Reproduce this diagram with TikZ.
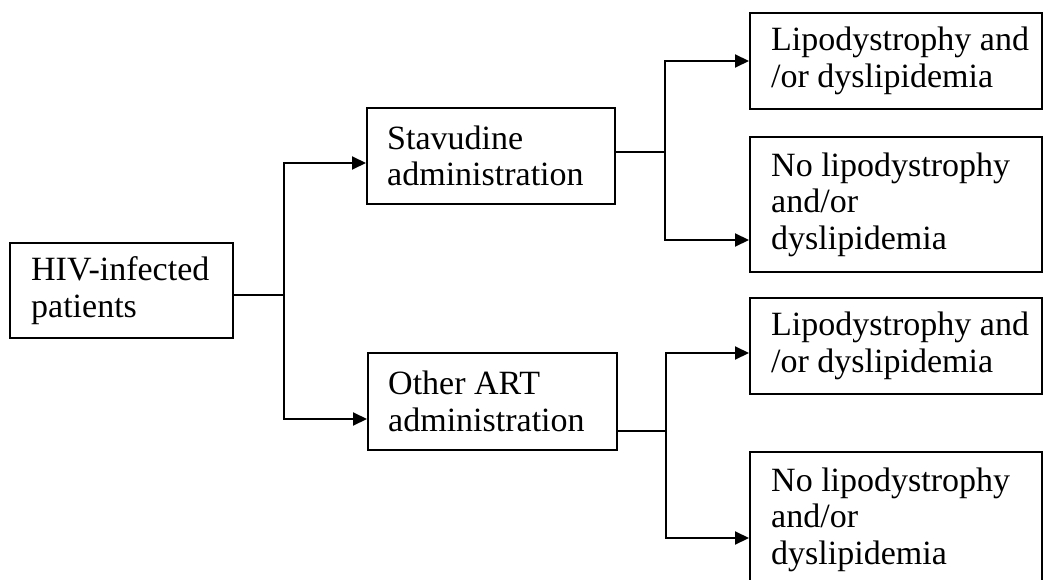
\documentclass[tikz,border=0pt]{standalone}
\usepackage{fontspec}
\setmainfont{Liberation Serif}
\usetikzlibrary{arrows.meta,calc}
\begin{document}
\begin{tikzpicture}[x=1pt,y=-1pt,
  box/.style={draw, line width=2pt, inner sep=0pt},
  txt/.style={align=left, inner sep=0pt, font=\fontsize{34}{36.5}\selectfont},
  ln/.style={line width=2pt},
  arr/.style={line width=2pt, -{Triangle[length=14pt,width=13pt]}}]
\useasboundingbox (0,0) rectangle (1043,580);
% boxes
\node[box, minimum width=223pt, minimum height=95pt] (H) at (121.5,290.5) {};
\node[box, minimum width=248pt, minimum height=96pt] (S) at (491,156) {};
\node[box, minimum width=249pt, minimum height=97pt] (O) at (492.5,401.5) {};
\node[box, minimum width=292pt, minimum height=96pt] (R1) at (896,61) {};
\node[box, minimum width=292pt, minimum height=135pt] (R2) at (896,204.5) {};
\node[box, minimum width=292pt, minimum height=96pt] (R3) at (896,346) {};
\node[box, minimum width=292pt, minimum height=135pt] (R4) at (896,519.5) {};
% texts
\node[txt, anchor=west] (Ht) at ([xshift=22pt]H.west) {HIV-infected\\patients};
\node[txt, anchor=west] (St) at ([xshift=21pt]S.west) {Stavudine\\administration};
\node[txt, anchor=west] (Ot) at ([xshift=21pt]O.west) {Other ART\\administration};
\node[txt, anchor=west] (R1t) at ([xshift=22pt]R1.west) {Lipodystrophy and\\/or dyslipidemia};
\node[txt, anchor=west] (R2t) at ([xshift=22pt]R2.west) {No lipodystrophy\\and/or\\dyslipidemia};
\node[txt, anchor=west] (R3t) at ([xshift=22pt]R3.west) {Lipodystrophy and\\/or dyslipidemia};
\node[txt, anchor=west] (R4t) at ([xshift=22pt]R4.west) {No lipodystrophy\\and/or\\dyslipidemia};
% junction coordinates
\coordinate (hout) at ([yshift=-4.5pt]H.east);
\coordinate (j1) at (284,295);
\coordinate (sin) at ([yshift=-7pt]S.west);
\coordinate (oin) at ([yshift=-17.5pt]O.west);
\coordinate (sout) at ([yshift=4pt]S.east);
\coordinate (j2) at (665,152);
\coordinate (oout) at ([yshift=-29.5pt]O.east);
\coordinate (j3) at (666,431);
\coordinate (r1in) at (R1.west);
\coordinate (r2in) at ([yshift=-35.5pt]R2.west);
\coordinate (r3in) at ([yshift=-7pt]R3.west);
\coordinate (r4in) at ([yshift=-18.5pt]R4.west);
% connectors
\draw[ln] (hout) -- (j1);
\draw[arr] (j1) |- (sin);
\draw[arr] (j1) |- (oin);
\draw[ln] (sout) -- (j2);
\draw[arr] (j2) |- (r1in);
\draw[arr] (j2) |- (r2in);
\draw[ln] (oout) -- (j3);
\draw[arr] (j3) |- (r3in);
\draw[arr] (j3) |- (r4in);
\end{tikzpicture}
\end{document}
